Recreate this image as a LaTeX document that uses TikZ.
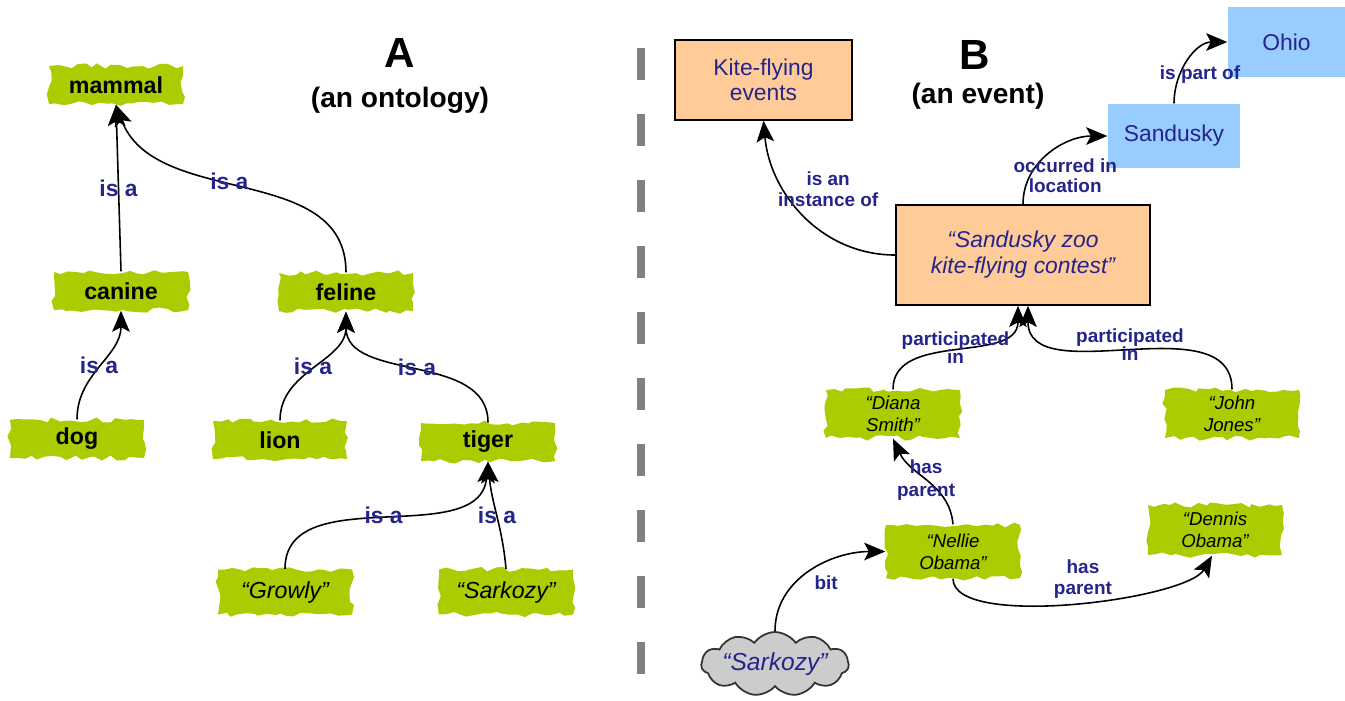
\documentclass[tikz,border=0pt]{standalone}
\usepackage{fontspec}
\setmainfont{Liberation Sans}
\usepackage{xcolor}
\usetikzlibrary{arrows.meta, shapes.symbols, decorations.pathmorphing}

\definecolor{leaf}{RGB}{170,204,0}
\definecolor{peach}{RGB}{255,204,153}
\definecolor{sky}{RGB}{153,204,255}
\definecolor{ink}{RGB}{36,36,140}
\definecolor{smoke}{RGB}{204,204,204}

\begin{document}
\begin{tikzpicture}[>={Stealth[length=6pt,width=5pt,inset=1.3pt]},
    link/.style={->, line width=0.45pt},
    leafnode/.style={fill=leaf, decorate, decoration={random steps, segment length=2pt, amplitude=0.75pt},
        minimum width=1.34cm, minimum height=0.38cm, inner sep=0pt,
        font=\fontsize{6.6}{7.6}\selectfont\bfseries},
    leafname/.style={leafnode, minimum height=0.45cm, font=\fontsize{6.6}{7.6}\selectfont\itshape},
    person/.style={leafnode, minimum height=0.48cm, align=center, font=\fontsize{5.3}{6.2}\selectfont\itshape},
    classbox/.style={draw, fill=peach, text=ink, align=center, line width=0.45pt,
        font=\fontsize{6.5}{7.2}\selectfont},
    placebox/.style={fill=sky, text=ink, align=center, font=\fontsize{6.5}{7.2}\selectfont},
    isa/.style={text=ink, inner sep=0pt, font=\fontsize{6.5}{7.5}\selectfont\bfseries},
    rel/.style={text=ink, align=center, inner sep=1pt, font=\fontsize{5.4}{5.9}\selectfont\bfseries},
    title/.style={font=\fontsize{12}{14}\selectfont\bfseries},
    subtitle/.style={font=\fontsize{8}{9.6}\selectfont\bfseries}]
    \pgfmathsetseed{7}
    \useasboundingbox (0,0) rectangle (13.45,-7.00);

    % Titles
    \node[title] (titleA) at (4.00,-0.53) {A};
    \node[subtitle] (subA) at (4.00,-1.00) {(an ontology)};
    \node[title] (titleB) at (9.75,-0.55) {B};
    \node[subtitle] (subB) at (9.78,-0.96) {(an event)};

    % Divider
    \draw[gray, line width=2pt, dash pattern=on 0.32cm off 0.34cm] (6.41,-0.48) -- (6.41,-7.00);

    % Ontology
    \node[leafnode] (mammal) at (1.16,-0.85) {mammal};
    \node[leafnode] (canine) at (1.21,-2.91) {canine};
    \node[leafnode] (feline) at (3.46,-2.92) {feline};
    \node[leafnode] (dog) at (0.77,-4.39) {dog};
    \node[leafnode] (lion) at (2.80,-4.40) {lion};
    \node[leafnode] (tiger) at (4.88,-4.42) {tiger};
    \node[leafname] (growly) at (2.85,-5.92) {“Growly”};
    \node[leafname] (sarkozyA) at (5.06,-5.92) {“Sarkozy”};

    \draw[link] (canine.north) -- node[isa] {is a} (mammal.south);
    \draw[link] (feline.north) to[out=90, in=-70] node[isa, pos=0.55] {is a} (mammal.south);
    \draw[link] (dog.north) to[out=90, in=-90] node[isa] {is a} (canine.south);
    \draw[link] (lion.north) to[out=90, in=-90] node[isa] {is a} (feline.south);
    \draw[link] (tiger.north) to[out=90, in=-90] node[isa] {is a} (feline.south);
    \draw[link] (growly.north) to[out=90, in=-95] node[isa] {is a} (tiger.south);
    \draw[link] (sarkozyA.north) to[out=95, in=-85] node[isa] {is a} (tiger.south);

    % Event
    \node[classbox, minimum width=1.77cm, minimum height=0.80cm] (kite) at (7.635,-0.80) {Kite-flying\\events};
    \node[classbox, minimum width=2.54cm, minimum height=1.00cm, font=\fontsize{6.5}{7.4}\selectfont\itshape]
        (contest) at (10.23,-2.55) {“Sandusky zoo\\kite-flying contest”};
    \node[placebox, minimum width=1.32cm, minimum height=0.64cm] (sandusky) at (11.74,-1.36) {Sandusky};
    \node[placebox, minimum width=1.17cm, minimum height=0.70cm] (ohio) at (12.865,-0.42) {Ohio};
    \node[person] (diana) at (8.93,-4.14) {“Diana\\Smith”};
    \node[person] (john) at (12.32,-4.14) {“John\\Jones”};
    \node[person, minimum height=0.53cm] (nellie) at (9.53,-5.515) {“Nellie\\Obama”};
    \node[person, minimum height=0.50cm] (dennis) at (12.15,-5.30) {“Dennis\\Obama”};
    \node[cloud, cloud puffs=11, cloud puff arc=110, cloud ignores aspect, minimum width=1.42cm,
        minimum height=0.64cm, inner sep=0pt, fill=smoke, draw=black!80, line width=0.5pt, text=ink,
        font=\fontsize{7}{8}\selectfont\itshape] (sarkozyB) at (7.75,-6.64) {“Sarkozy”};

    \draw[link] (contest.west) to[out=180, in=-85] node[rel, pos=0.5, xshift=0.24cm, yshift=0.26cm] {is an\\instance of} (kite.south);
    \draw[link] (contest.north) to[out=90, in=180] node[rel, pos=0.5, below, xshift=0.16cm] {occurred in\\location} (sandusky.west);
    \draw[link] (sandusky.north) to[out=90, in=180] node[rel, pos=0.45, xshift=0.14cm, yshift=-0.1cm] {is part of} (ohio.west);
    \draw[link] (diana.north) to[out=90, in=-90] node[rel, inner sep=0pt, font=\fontsize{5.4}{5.1}\selectfont\bfseries] {participated\\in} ([xshift=-0.05cm]contest.south);
    \draw[link] (john.north) to[out=90, in=-90] node[rel, inner sep=0pt, font=\fontsize{5.4}{5.1}\selectfont\bfseries, yshift=0.03cm] {participated\\in} ([xshift=0.05cm]contest.south);
    \draw[link] (nellie.north) to[out=95, in=-65] node[rel, inner sep=0pt, font=\fontsize{5.4}{6.3}\selectfont\bfseries, xshift=-0.02cm] {has\\parent} (diana.south);
    \draw[link] (nellie.south) to[out=-90, in=-120, looseness=0.5] node[rel, above, xshift=0.1cm] {has\\parent} ([xshift=-0.03cm]dennis.south);
    \draw[link] (sarkozyB.north) to[out=90, in=180] node[rel, pos=0.5, below right] {bit} (nellie.west);
\end{tikzpicture}
\end{document}
